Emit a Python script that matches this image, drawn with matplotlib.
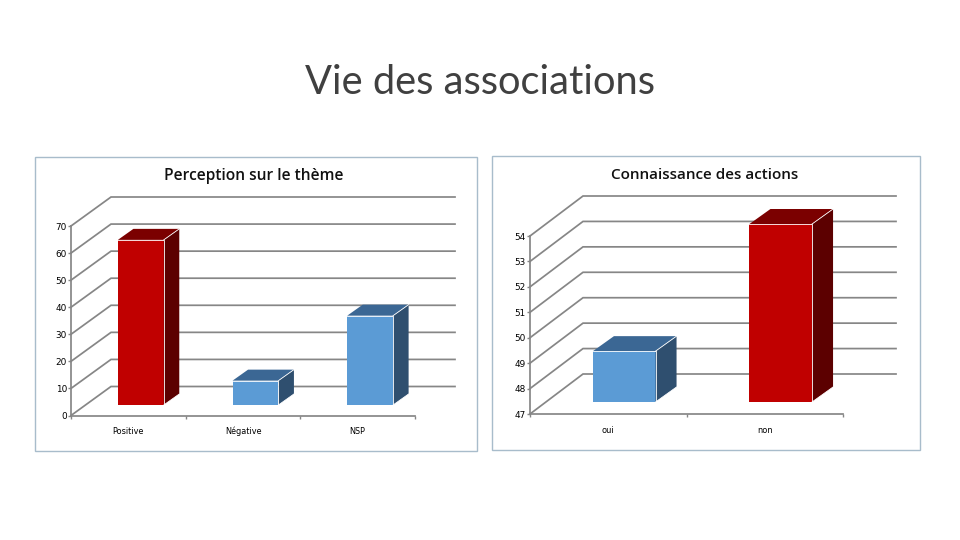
import matplotlib
matplotlib.use('Agg')
import matplotlib.pyplot as plt
from matplotlib.patches import Polygon, Rectangle

W, H = 960, 540

# data
cats_left = ['Positive', 'Négative', 'NSP']
vals_left = [61, 9, 33]
colors_left = ['red', 'blue', 'blue']
ticks_left = [0, 10, 20, 30, 40, 50, 60, 70]

cats_right = ['oui', 'non']
vals_right = [49, 54]
colors_right = ['blue', 'red']
ticks_right = [47, 48, 49, 50, 51, 52, 53, 54]

# front, top, side
shades = {
    'red': ('#c00000', '#7b0000', '#5c0000'),
    'blue': ('#5b9bd5', '#3b6794', '#2f4f6f'),
}
GRID = '#868686'
FRAME = '#a8bccb'


def px_axes(fig, x0, x1, ytop, ybot):
    return fig.add_axes([x0 / W, 1 - ybot / H, (x1 - x0) / W, (ybot - ytop) / H])


def draw_box(ax, x, val, base, width, dx, dy, shade):
    front, top, side = shades[shade]
    l, r = x - width / 2, x + width / 2
    ax.bar(x, val - base, width, bottom=base, color=front, zorder=5, clip_on=False)
    ax.add_patch(Polygon([(l, val), (r, val), (r + dx, val + dy), (l + dx, val + dy)],
                         fc=top, ec='none', zorder=5, clip_on=False))
    ax.add_patch(Polygon([(r, base), (r + dx, base + dy), (r + dx, val + dy), (r, val)],
                         fc=side, ec='none', zorder=5, clip_on=False))
    # thin white highlights on the box edges
    ax.plot([l, r, r], [val, val, base], color='white', lw=0.6, zorder=6, clip_on=False)
    ax.plot([r, r + dx], [val, val + dy], color='white', lw=0.6, zorder=6, clip_on=False)
    ax.plot([r, r + dx], [base, base + dy], color='white', lw=0.6, zorder=6, clip_on=False)


def chart(fig, box, cats, vals, colors, ticks, wall, bar_depth, bar_shift):
    # box is the front plane of the 3D frame, in pixels
    ax = px_axes(fig, *box)
    n = len(cats)
    ax.set_xlim(0, n)
    ax.set_ylim(ticks[0], ticks[-1])
    ax.patch.set_alpha(0)

    x_unit = n / (box[1] - box[0])
    y_unit = (ticks[-1] - ticks[0]) / (box[3] - box[2])

    wx, wy = wall[0] * x_unit, wall[1] * y_unit
    for t in ticks:
        ax.plot([0, wx, n + wx], [t, t + wy, t + wy], color=GRID, lw=1.25,
                zorder=1, clip_on=False, solid_joinstyle='miter')

    dx, dy = bar_depth[0] * x_unit, bar_depth[1] * y_unit
    sx, sy = bar_shift[0] * x_unit, bar_shift[1] * y_unit
    for i, v in enumerate(vals):
        draw_box(ax, i + 0.5 + sx, v + sy, ticks[0] + sy, 0.4, dx, dy, colors[i])

    for s in ('top', 'right'):
        ax.spines[s].set_visible(False)
    for s in ('left', 'bottom'):
        ax.spines[s].set_color(GRID)
        ax.spines[s].set_linewidth(1.25)

    ax.set_yticks(ticks)
    ax.set_xticks(range(n + 1))
    ax.set_xticklabels([])
    ax.set_xticks([i + 0.5 for i in range(n)], cats, minor=True)
    ax.tick_params(axis='x', which='major', length=2, width=1, color=GRID)
    ax.tick_params(axis='x', which='minor', length=0, pad=13.5, labelsize=5.9)
    ax.tick_params(axis='y', length=2, width=1, color=GRID, labelsize=6.4, pad=1)
    for lab in ax.get_xticklabels(minor=True):
        lab.set_va('baseline')
    return ax


fig = plt.figure(figsize=(W / 100, H / 100), dpi=100, facecolor='white')

for x0, y0, x1, y1 in [(34.5, 156.5, 476.5, 451), (491.5, 155.5, 919.5, 450)]:
    fig.add_artist(Rectangle((x0 / W, 1 - y1 / H), (x1 - x0) / W, (y1 - y0) / H,
                             transform=fig.transFigure, fc='white', ec=FRAME, lw=1.0,
                             zorder=-1))

chart(fig, (71, 415, 226, 415.5), cats_left, vals_left, colors_left, ticks_left,
      wall=(40, 29), bar_depth=(15.5, 11), bar_shift=(12.5, 10.5))
chart(fig, (530, 843, 236, 414), cats_right, vals_right, colors_right, ticks_right,
      wall=(53, 40), bar_depth=(21, 15), bar_shift=(16, 12))

fig.text(480 / W, 1 - 83 / H, 'Vie des associations', ha='center', va='center',
         fontsize=28.7, family='Lato', color='#404040')
fig.text(254 / W, 1 - 176 / H, 'Perception sur le thème', ha='center', va='center',
         fontsize=11.2, family='Open Sans', weight='semibold', color='#111111')
fig.text(704.5 / W, 1 - 175 / H, 'Connaissance des actions', ha='center', va='center',
         fontsize=11, family='Open Sans', weight='semibold', color='#111111')

fig.savefig('out.png', dpi=100)
